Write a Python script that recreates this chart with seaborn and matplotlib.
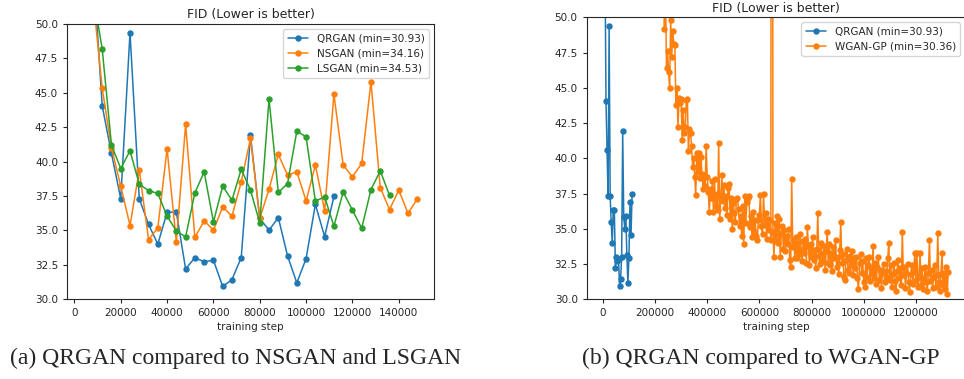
import numpy as np
import pandas as pd
import matplotlib
matplotlib.use("Agg")
import matplotlib.pyplot as plt
import seaborn as sns

# FID values
steps_qr = list(range(4000, 112001, 4000))
fid_qrgan = [72.0, 54.5, 44.04, 40.6, 37.3, 49.37, 37.3, 35.45, 34.0, 36.33,
             36.33, 32.2, 33.03, 32.72, 32.84, 30.93, 31.43, 33.03, 41.9, 35.87,
             35.02, 35.94, 33.15, 31.19, 32.96, 36.89, 34.56, 37.47]

steps_ns = list(range(4000, 148001, 4000))
fid_nsgan = [70.0, 52.0, 45.32, 41.0, 38.22, 35.36, 39.38, 34.34, 35.19, 40.93,
             34.16, 42.70, 34.49, 35.70, 35.02, 36.71, 36.04, 38.53, 41.69, 35.87,
             38.0, 40.52, 39.02, 39.26, 37.15, 39.75, 36.42, 44.89, 39.75, 38.9,
             39.87, 45.8, 38.12, 36.52, 37.93, 36.24, 37.3]

steps_ls = list(range(4000, 136001, 4000))
fid_lsgan = [68.0, 52.2, 48.18, 41.2, 39.5, 40.79, 38.36, 37.9, 37.69, 36.04,
             34.97, 34.53, 37.73, 39.26, 35.62, 38.22, 37.2, 39.45, 37.93, 35.55,
             44.55, 37.76, 38.41, 42.22, 41.8, 37.13, 37.44, 35.31, 37.8, 36.47,
             35.16, 37.97, 39.33, 37.56]

steps_wg = list(range(200000, 1324001, 4000))
fid_wgan = [
    66.0, 62.5, 63.1, 58.4, 59.7, 55.2, 56.8, 52.9, 53.6, 49.2,   # 200k
    51.8, 46.4, 47.6, 46.1, 45.0, 49.8, 47.2, 49.0, 48.1, 48.0,   # 240k
    43.8, 45.0, 42.2, 44.3, 43.9, 44.2, 41.3, 43.4, 41.8, 42.2,   # 280k
    44.1, 44.2, 40.5, 42.1, 41.8, 40.9, 39.4, 40.0, 38.7, 37.4,   # 320k
    40.4, 39.0, 40.4, 38.6, 40.1, 38.9, 37.8, 38.8, 38.0, 40.9,   # 360k
    38.7, 37.6, 36.2, 37.8, 37.2, 38.4, 36.2, 38.5, 36.6, 37.5,   # 400k
    36.3, 41.1, 35.7, 37.3, 38.8, 37.0, 38.1, 36.5, 37.3, 36.0,   # 440k
    37.9, 38.2, 35.7, 37.2, 35.0, 36.8, 36.1, 35.5, 37.1, 37.2,   # 480k
    36.4, 35.2, 35.9, 34.5, 36.6, 33.9, 37.3, 35.4, 36.9, 37.2,   # 520k
    37.3, 35.1, 35.9, 34.4, 36.2, 34.8, 35.6, 34.5, 34.2, 35.6,   # 560k
    36.0, 37.4, 35.2, 34.6, 37.5, 35.3, 36.1, 34.3, 35.7, 34.9,   # 600k
    35.6, 34.2, 150.0, 34.8, 33.0, 35.4, 34.1, 35.9, 34.0, 35.7,  # 640k
    33.0, 34.7, 35.2, 33.6, 34.9, 33.4, 34.5, 33.9, 35.0, 32.8,   # 680k
    32.3, 38.5, 33.7, 34.2, 32.9, 34.4, 32.9, 34.0, 33.2, 34.6,   # 720k
    33.5, 32.7, 34.1, 33.3, 34.3, 32.6, 35.1, 33.8, 32.4, 33.9,   # 760k
    33.0, 34.4, 32.8, 33.5, 32.2, 33.6, 36.1, 33.1, 32.5, 34.0,   # 800k
    33.2, 32.7, 33.8, 32.1, 33.4, 34.8, 32.6, 33.9, 32.4, 33.3,   # 840k
    32.0, 33.7, 32.9, 34.2, 32.3, 33.0, 31.8, 33.5, 35.5, 32.6,   # 880k
    33.2, 31.6, 31.4, 32.8, 33.6, 32.1, 31.9, 33.1, 32.4, 33.4,   # 920k
    31.7, 32.9, 32.2, 33.0, 31.5, 30.7, 32.6, 33.2, 31.9, 32.7,   # 960k
    31.2, 30.9, 32.9, 31.6, 32.4, 33.0, 31.3, 32.2, 31.8, 33.8,   # 1000k
    31.5, 32.6, 31.1, 32.3, 33.0, 31.4, 32.1, 30.8, 31.9, 32.5,   # 1040k
    31.2, 32.0, 31.6, 32.9, 34.0, 31.4, 32.4, 30.9, 31.8, 32.6,   # 1080k
    31.3, 30.6, 32.0, 32.8, 31.5, 32.2, 31.0, 34.8, 31.7, 32.3,   # 1120k
    30.8, 31.9, 32.5, 31.2, 30.5, 31.8, 32.4, 31.1, 32.0, 33.3,   # 1160k
    31.4, 33.3, 30.9, 31.6, 33.3, 31.0, 32.2, 30.7, 31.5, 32.3,   # 1200k
    31.2, 30.6, 31.9, 34.2, 31.3, 32.1, 30.8, 31.6, 32.4, 30.9,   # 1240k
    31.7, 34.7, 31.2, 30.6, 31.8, 33.3, 31.0, 31.9, 30.7, 32.3,   # 1280k
    30.36, 31.96,                                                 # 1320k
]

y_ticks = [30.0, 32.5, 35.0, 37.5, 40.0, 42.5, 45.0, 47.5, 50.0]

sns.set_style("ticks")
plt.rcParams['font.family'] = ['DejaVu Sans']

blue, orange, green = sns.color_palette("tab10")[:3]
line_kw = dict(marker='o', markersize=4.6, markeredgewidth=0, linewidth=1.1)

fig = plt.figure(figsize=(9.64, 3.79), dpi=100)
ax1 = fig.add_axes([0.0695, 0.2103, 0.3807, 0.7264])
ax2 = fig.add_axes([0.6086, 0.2103, 0.3929, 0.7441])


def draw(ax, name, steps, vals, color):
    df = pd.DataFrame({'step': steps, 'fid': vals})
    sns.lineplot(data=df, x='step', y='fid', color=color, ax=ax,
                 label=f'{name} (min={min(vals):.2f})', **line_kw)


draw(ax1, 'QRGAN', steps_qr, fid_qrgan, blue)
draw(ax1, 'NSGAN', steps_ns, fid_nsgan, orange)
draw(ax1, 'LSGAN', steps_ls, fid_lsgan, green)

draw(ax2, 'QRGAN', steps_qr, fid_qrgan, blue)
draw(ax2, 'WGAN-GP', steps_wg, fid_wgan, orange)

for ax in (ax1, ax2):
    ax.set_ylim(30, 50)
    ax.set_yticks(y_ticks)
    ax.ticklabel_format(axis='x', style='plain', useOffset=False)
    ax.set_title('FID (Lower is better)', fontsize=9, pad=4)
    ax.set_xlabel('training step', fontsize=7.5, labelpad=3)
    ax.set_ylabel('')
    ax.tick_params(labelsize=7.5, length=3)
    ax.legend(loc='upper right', fontsize=7.5, frameon=True, fancybox=True,
              framealpha=0.8, edgecolor='0.8')

fig.text(0.244, 0.055, '(a) QRGAN compared to NSGAN and LSGAN',
         family='Liberation Serif', fontsize=17, ha='center', va='center')
fig.text(0.789, 0.055, '(b) QRGAN compared to WGAN-GP',
         family='Liberation Serif', fontsize=17, ha='center', va='center')

fig.savefig('out.png', dpi=100)
